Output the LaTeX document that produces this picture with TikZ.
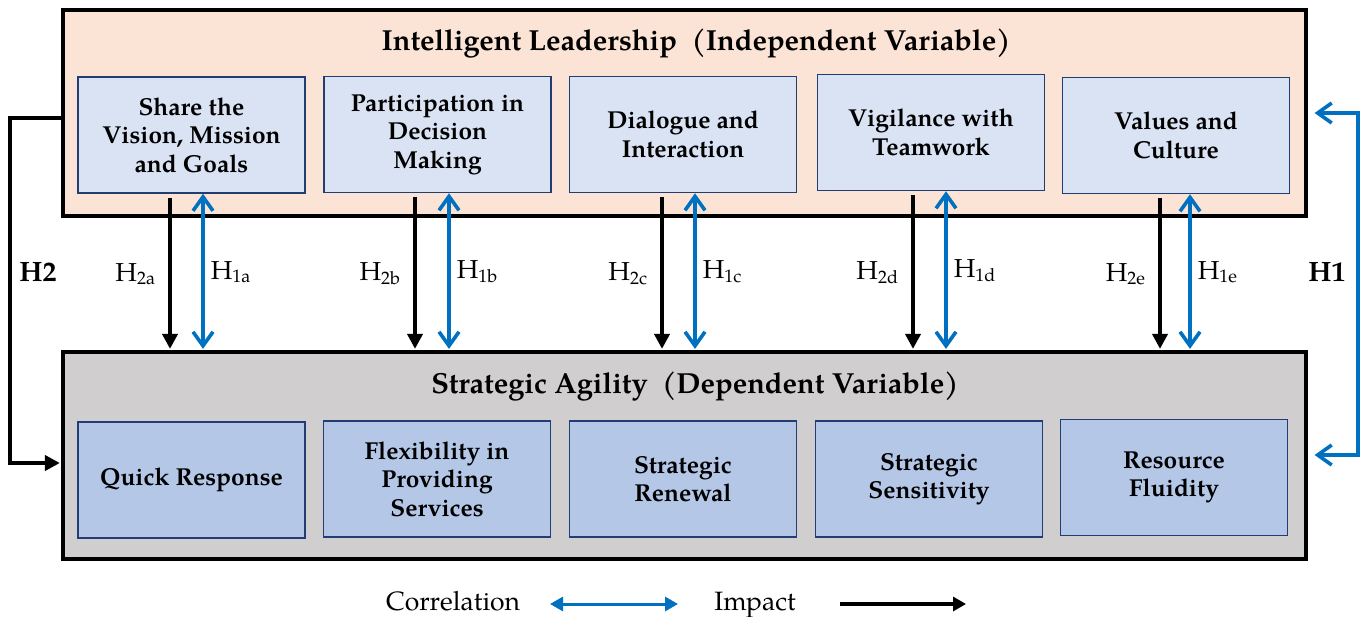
\documentclass[tikz,border=0pt]{standalone}
\usepackage{fontspec}
\setmainfont{TeX Gyre Pagella}
\usetikzlibrary{arrows.meta}

\definecolor{peach}{HTML}{FBE4D6}
\definecolor{paleblue}{HTML}{DAE3F3}
\definecolor{midblue}{HTML}{B4C7E7}
\definecolor{frame}{HTML}{223D72}
\definecolor{panelgray}{HTML}{D0CECE}
\definecolor{linkblue}{HTML}{0070C0}

\newcommand\bxfont{\fontsize{24.5}{28.5}\selectfont\bfseries}
\newcommand\ttlfont{\fontsize{29}{32}\selectfont\bfseries}
\newcommand\lblfont{\fontsize{26}{30}\selectfont}
\newcommand\lgdfont{\fontsize{26.5}{30}\selectfont}
\newcommand\hsub[1]{\raisebox{-0.3ex}{\fontsize{18}{18}\selectfont #1}}

\begin{document}
\begin{tikzpicture}[x=1pt,y=-1pt,
  panel/.style={draw=black,line width=3.2pt,minimum width=1243pt,minimum height=206pt,inner sep=0pt},
  dimbox/.style={draw=frame,line width=1.5pt,minimum width=227pt,minimum height=116pt,
                 align=center,font=\bxfont,inner sep=2pt},
  title/.style={font=\ttlfont,inner sep=0pt,anchor=base},
  lbl/.style={font=\lblfont,inner sep=0pt},
  imp/.style={draw=black,line width=3.8pt,-{Triangle[length=15pt,width=15pt]}},
  corr/.style={draw=linkblue,line width=3.6pt,
               {Straight Barb[length=14pt,width=20pt]}-{Straight Barb[length=14pt,width=20pt]}},
]
\useasboundingbox (0,0) rectangle (1364,617);

% independent variable panel
\node[panel,fill=peach] (top) at (684.5,113) {};
\node[title] (toptitle) at (696,51) {Intelligent Leadership\ \ (Independent Variable)};
\node[dimbox,fill=paleblue] (ta) at (191.5,135)   {Share the\\Vision, Mission\\and Goals};
\node[dimbox,fill=paleblue] (tb) at (437.5,134.5) {Participation in\\Decision\\Making};
\node[dimbox,fill=paleblue] (tc) at (683,134.5)   {Dialogue and\\Interaction};
\node[dimbox,fill=paleblue] (td) at (931,132.5)   {Vigilance with\\Teamwork};
\node[dimbox,fill=paleblue] (te) at (1176,135.5)  {Values and\\Culture};

% dependent variable panel
\node[panel,fill=panelgray,minimum height=207pt] (bot) at (684.5,455.5) {};
\node[title] (bottitle) at (695,393) {Strategic Agility\ \ (Dependent Variable)};
\node[dimbox,fill=midblue] (ba) at (191.5,480) {Quick Response};
\node[dimbox,fill=midblue] (bb) at (437,479)   {Flexibility in\\Providing\\Services};
\node[dimbox,fill=midblue] (bc) at (683,479)   {Strategic\\Renewal};
\node[dimbox,fill=midblue] (bd) at (929,479)   {Strategic\\Sensitivity};
\node[dimbox,fill=midblue] (be) at (1174,477.5){Resource\\Fluidity};

% impact (black) and correlation (blue) links per dimension
\draw[imp,shorten >=1.5pt] ([xshift=-21.5pt,yshift=-4pt]ta.south) -- ([xshift=-21.5pt]ta.south |- bot.north)
  node[lbl,midway,left=13pt] (h2a) {H\hsub{2a}};
\draw[corr,shorten >=1.5pt] ([xshift=11.5pt]ta.south) -- ([xshift=11.5pt]ta.south |- bot.north)
  node[lbl,midway,right=6pt] (h1a) {H\hsub{1a}};

\draw[imp,shorten >=1.5pt] ([xshift=-22.5pt,yshift=-4pt]tb.south) -- ([xshift=-22.5pt]tb.south |- bot.north)
  node[lbl,midway,left=13pt] (h2b) {H\hsub{2b}};
\draw[corr,shorten >=1.5pt] ([xshift=11.5pt]tb.south) -- ([xshift=11.5pt]tb.south |- bot.north)
  node[lbl,midway,right=6pt] (h1b) {H\hsub{1b}};

\draw[imp,shorten >=1.5pt] ([xshift=-21pt,yshift=-4pt]tc.south) -- ([xshift=-21pt]tc.south |- bot.north)
  node[lbl,midway,left=13pt] (h2c) {H\hsub{2c}};
\draw[corr,shorten >=1.5pt] ([xshift=12pt]tc.south) -- ([xshift=12pt]tc.south |- bot.north)
  node[lbl,midway,right=6pt] (h1c) {H\hsub{1c}};

\draw[imp,shorten >=1.5pt] ([xshift=-18pt,yshift=-4pt]td.south) -- ([xshift=-18pt]td.south |- bot.north)
  node[lbl,midway,left=13pt] (h2d) {H\hsub{2d}};
\draw[corr,shorten >=1.5pt] ([xshift=15pt]td.south) -- ([xshift=15pt]td.south |- bot.north)
  node[lbl,midway,right=6pt] (h1d) {H\hsub{1d}};

\draw[imp,shorten >=1.5pt] ([xshift=-16pt,yshift=-4pt]te.south) -- ([xshift=-16pt]te.south |- bot.north)
  node[lbl,midway,left=13pt] (h2e) {H\hsub{2e}};
\draw[corr,shorten >=1.5pt] ([xshift=14pt]te.south) -- ([xshift=14pt]te.south |- bot.north)
  node[lbl,midway,right=6pt] (h1e) {H\hsub{1e}};

% overall hypotheses
\coordinate (h2top) at (10,118);
\coordinate (h2bot) at (10,463);
\draw[imp,line join=miter,shorten >=1.5pt]
  (top.west |- h2top) -- (h2top) -- (h2bot) -- (bot.west |- h2bot);
\node[lbl,font=\fontsize{28}{30}\selectfont\bfseries] (h2) at (38,272) {H2};

\coordinate (h1top) at (1358,113);
\coordinate (h1bot) at (1358,455);
\draw[corr,line join=miter,shorten <=7pt,shorten >=7pt]
  (top.east |- h1top) -- (h1top) -- (h1bot) -- (bot.east |- h1bot);
\node[lbl,font=\fontsize{28}{30}\selectfont\bfseries] (h1) at (1327,272) {H1};

% legend
\node[lbl,font=\lgdfont,anchor=base] (corrtxt) at (453,610) {Correlation};
\coordinate (ca) at (550,604);
\coordinate (cb) at (678,604);
\draw[draw=linkblue,line width=3pt,{Triangle[length=13pt,width=14pt]}-{Triangle[length=13pt,width=14pt]}] (ca) -- (cb);
\node[lbl,font=\lgdfont,anchor=base] (imptxt) at (755,610) {Impact};
\coordinate (ia) at (840,604);
\coordinate (ib) at (966,604);
\draw[draw=black,line width=3.5pt,-{Triangle[length=13pt,width=14pt]}] (ia) -- (ib);
\end{tikzpicture}
\end{document}
